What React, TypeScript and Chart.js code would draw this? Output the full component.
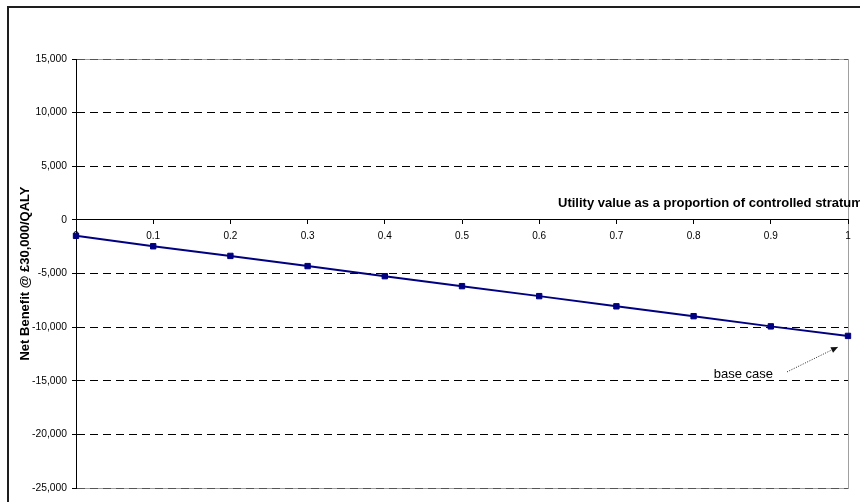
import { useEffect, useRef } from 'react';
import { Chart, registerables } from 'chart.js';

Chart.register(...registerables);

// Sensitivity of net benefit to the utility value assigned to the controlled stratum
const utilityProportion = [0, 0.1, 0.2, 0.3, 0.4, 0.5, 0.6, 0.7, 0.8, 0.9, 1];
const netBenefit = [-1490, -2460, -3360, -4310, -5250, -6180, -7110, -8060, -8980, -9930, -10820];

const xTickValues = [0, 0.1, 0.2, 0.3, 0.4, 0.5, 0.6, 0.7, 0.8, 0.9, 1];
const xTickLabels = ['0', '0.1', '0.2', '0.3', '0.4', '0.5', '0.6', '0.7', '0.8', '0.9', '1'];
const yTickValues = [-25000, -20000, -15000, -10000, -5000, 0, 5000, 10000, 15000];
const yTickLabels = ['-25,000', '-20,000', '-15,000', '-10,000', '-5,000', '0', '5,000', '10,000', '15,000'];

const yAxisTitle = 'Net Benefit @ £30,000/QALY';
const xAxisTitle = 'Utility value as a proportion of controlled stratum';
const baseCaseLabel = 'base case';
const baseCaseIndex = 10;

const FONT = '"Liberation Sans", Arial, Helvetica, sans-serif';
const Y_MIN = -25000;
const Y_MAX = 15000;

const decorations = {
  id: 'decorations',
  beforeDraw(chart: any) {
    const { ctx, chartArea: a } = chart;
    ctx.save();
    ctx.strokeStyle = '#a0a0a0';
    ctx.lineWidth = 1;
    const l = Math.round(a.left) + 0.5;
    const t = Math.round(a.top) + 0.5;
    ctx.strokeRect(l, t, Math.round(a.right) - Math.round(a.left), Math.round(a.bottom) - Math.round(a.top));
    ctx.restore();
  },
  afterDraw(chart: any) {
    const { ctx, chartArea: a, scales } = chart;
    ctx.save();

    // outer chart frame (left and top edges)
    ctx.fillStyle = '#1e1e1e';
    ctx.fillRect(0, 0, 2, chart.height);
    ctx.fillRect(0, 0, chart.width, 2);

    // horizontal axis title sits above the zero line
    const axisY = scales.y.getPixelForValue(0);
    ctx.fillStyle = '#000';
    ctx.font = `bold 13px ${FONT}`;
    ctx.textAlign = 'left';
    ctx.textBaseline = 'middle';
    ctx.fillText(xAxisTitle, a.right - 290, axisY - 16);

    // base case callout with dotted arrow
    const px = scales.x.getPixelForValue(utilityProportion[baseCaseIndex]);
    const py = scales.y.getPixelForValue(netBenefit[baseCaseIndex]);
    ctx.font = `13px ${FONT}`;
    ctx.textAlign = 'right';
    ctx.fillText(baseCaseLabel, px - 75, py + 39);

    const x0 = px - 61, y0 = py + 36;
    const x1 = px - 10, y1 = py + 11;
    ctx.strokeStyle = '#222';
    ctx.lineWidth = 1;
    ctx.setLineDash([1, 1.5]);
    ctx.beginPath();
    ctx.moveTo(x0, y0);
    ctx.lineTo(x1, y1);
    ctx.stroke();
    ctx.setLineDash([]);
    const ang = Math.atan2(y1 - y0, x1 - x0);
    const len = 7, half = 3;
    ctx.beginPath();
    ctx.moveTo(x1, y1);
    ctx.lineTo(x1 - len * Math.cos(ang) + half * Math.sin(ang), y1 - len * Math.sin(ang) - half * Math.cos(ang));
    ctx.lineTo(x1 - len * Math.cos(ang) - half * Math.sin(ang), y1 - len * Math.sin(ang) + half * Math.cos(ang));
    ctx.closePath();
    ctx.fillStyle = '#111';
    ctx.fill();

    ctx.restore();
  },
};

export default function App() {
  const canvasRef = useRef<HTMLCanvasElement | null>(null);

  useEffect(() => {
    const canvas = canvasRef.current;
    if (!canvas) return;
    const chart = new Chart(canvas, {
      type: 'line',
      data: {
        datasets: [
          {
            data: utilityProportion.map((x, i) => ({ x, y: netBenefit[i] })),
            borderColor: '#000080',
            backgroundColor: '#000080',
            borderWidth: 2,
            pointStyle: 'rect',
            pointRadius: 3.8,
            pointBorderWidth: 1,
            pointBackgroundColor: '#000080',
            pointBorderColor: '#000080',
            tension: 0,
            clip: false,
          },
        ],
      },
      options: {
        responsive: false,
        animation: false,
        devicePixelRatio: 1,
        layout: { padding: { top: 53, right: 12, bottom: 14, left: 0 } },
        plugins: {
          legend: { display: false },
          tooltip: { enabled: false },
        },
        scales: {
          x: {
            type: 'linear',
            position: { y: 0 },
            min: 0,
            max: 1,
            afterBuildTicks: (scale: any) => {
              scale.ticks = xTickValues.map((v) => ({ value: v }));
            },
            ticks: {
              autoSkip: false,
              maxRotation: 0,
              padding: 6,
              color: '#000',
              font: { family: FONT, size: 10 },
              callback: (_v: any, i: number) => xTickLabels[i],
            },
            grid: {
              drawOnChartArea: false,
              drawTicks: true,
              tickLength: 4,
              tickColor: '#000',
            },
            border: { display: true, color: '#000', width: 1 },
          },
          y: {
            type: 'linear',
            min: Y_MIN,
            max: Y_MAX,
            afterBuildTicks: (scale: any) => {
              scale.ticks = yTickValues.map((v) => ({ value: v }));
            },
            afterFit: (scale: any) => {
              scale.width = 69;
            },
            ticks: {
              autoSkip: false,
              padding: 5,
              color: '#000',
              font: { family: FONT, size: 10.3 },
              callback: (_v: any, i: number) => yTickLabels[i],
            },
            grid: {
              color: (c: any) => {
                const v = c.tick ? c.tick.value : null;
                if (v === 0) return 'rgba(0,0,0,0)';
                if (v === Y_MIN || v === Y_MAX) return '#555';
                return '#000';
              },
              lineWidth: 1,
              drawTicks: true,
              tickLength: 4,
              tickColor: '#000',
            },
            border: { display: true, color: '#000', width: 1, dash: [8, 5] },
            title: {
              display: true,
              text: yAxisTitle,
              color: '#000',
              font: { family: FONT, size: 13, weight: 'bold' },
              padding: { top: 10.5, bottom: 0 },
            },
          },
        },
      },
      plugins: [decorations],
    } as any);
    return () => chart.destroy();
  }, []);

  return (
    <div style={{ position: 'fixed', left: 7, top: 6, width: 853, height: 496, background: '#fff' }}>
      <canvas ref={canvasRef} width={853} height={496} style={{ display: 'block', width: 853, height: 496 }} />
    </div>
  );
}
